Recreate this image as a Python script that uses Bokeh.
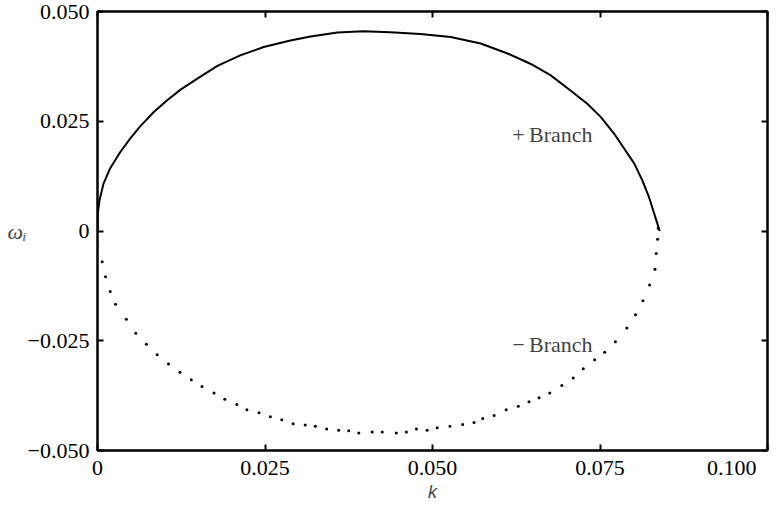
from bokeh.plotting import figure
from bokeh.models import LinearAxis, FixedTicker, Label, Range1d
from bokeh.embed import file_html
from bokeh.resources import INLINE

# + branch (solid curve)
k_plus = [0.0, 0.00005, 0.0003, 0.0009, 0.0019, 0.0034, 0.0049, 0.0064, 0.0084, 0.0104,
          0.0124, 0.0149, 0.0179, 0.0213, 0.0248, 0.0288, 0.0318, 0.0358, 0.0397, 0.0437,
          0.0482, 0.0527, 0.0572, 0.0611, 0.0646, 0.0676, 0.0706, 0.0731, 0.0751, 0.0771,
          0.0786, 0.0801, 0.0813, 0.0823, 0.0830, 0.0836, 0.0839]
w_plus = [0.0, 0.0040, 0.0070, 0.0108, 0.0143, 0.0180, 0.0211, 0.0239, 0.0271, 0.0298,
          0.0322, 0.0347, 0.0376, 0.0400, 0.0419, 0.0434, 0.0443, 0.0452, 0.0455, 0.0453,
          0.0449, 0.0442, 0.0427, 0.0405, 0.0381, 0.0355, 0.0320, 0.0290, 0.0260, 0.0222,
          0.0188, 0.0154, 0.0116, 0.0078, 0.0044, 0.0015, 0.0]

# - branch (dotted)
k_minus = [0.0, 0.0, 0.0007, 0.0012, 0.0019, 0.0027, 0.0043, 0.0057, 0.0073, 0.0089,
           0.0106, 0.0123, 0.0140, 0.0156, 0.0174, 0.0190, 0.0208, 0.0223, 0.0241, 0.0258,
           0.0275, 0.0292, 0.0310, 0.0325, 0.0342, 0.0360, 0.0375, 0.0390, 0.0410, 0.0425,
           0.0446, 0.0461, 0.0476, 0.0492, 0.0507, 0.0526, 0.0545, 0.0562, 0.0575, 0.0592,
           0.0610, 0.0628, 0.0644, 0.0659, 0.0675, 0.0693, 0.0710, 0.0725, 0.0742, 0.0757,
           0.0773, 0.0790, 0.0803, 0.0814, 0.0824, 0.0832, 0.0834, 0.0836, 0.0837]
w_minus = [0.0006, -0.0032, -0.0070, -0.0104, -0.0138, -0.0167, -0.0201, -0.0233, -0.0258, -0.0282,
           -0.0303, -0.0322, -0.0339, -0.0354, -0.0369, -0.0383, -0.0395, -0.0407, -0.0414, -0.0423,
           -0.0430, -0.0439, -0.0442, -0.0445, -0.0451, -0.0454, -0.0455, -0.0460, -0.0458, -0.0458,
           -0.0460, -0.0458, -0.0451, -0.0454, -0.0448, -0.0445, -0.0441, -0.0436, -0.0427, -0.0420,
           -0.0407, -0.0399, -0.0389, -0.0380, -0.0369, -0.0352, -0.0335, -0.0314, -0.0293, -0.0276,
           -0.0252, -0.0221, -0.0191, -0.0159, -0.0123, -0.0087, -0.0051, -0.0019, 0.0006]

x_ticks = [0.0, 0.025, 0.05, 0.075, 0.1]
x_tick_labels = ["0", "0.025", "0.050", "0.075", "0.100"]
y_ticks = [-0.05, -0.025, 0.0, 0.025, 0.05]
y_tick_labels = ["\u22120.050", "\u22120.025", "0", "0.025", "0.050"]

branch_text = ["+\u2009Branch", "\u2212\u2009Branch"]
branch_k = [0.0619, 0.0619]
branch_w = [0.0220, -0.0259]

SERIF = "Liberation Serif"
FS = "22px"

p = figure(width=778, height=512, output_backend="svg", toolbar_location=None,
           x_range=Range1d(0.0, 0.1), y_range=Range1d(-0.05, 0.05),
           x_axis_type=None, y_axis_type=None,
           min_border_left=97, min_border_right=11, min_border_top=11, min_border_bottom=62)
p.background_fill_color = "white"
p.border_fill_color = "white"
p.grid.visible = False
p.outline_line_color = "black"
p.outline_line_width = 2

def make_axis(ticks, labels, show_labels):
    ax = LinearAxis(ticker=FixedTicker(ticks=ticks))
    ax.axis_line_color = "black"
    ax.axis_line_width = 2
    ax.major_tick_in = 6
    ax.major_tick_out = 0
    ax.major_tick_line_width = 2
    ax.minor_tick_line_color = None
    if show_labels:
        ax.major_label_overrides = {t: l for t, l in zip(ticks, labels)}
        ax.major_label_text_font = SERIF
        ax.major_label_text_font_size = FS
        ax.major_label_text_color = "black"
    else:
        ax.major_label_text_font_size = "0px"
        ax.major_label_text_alpha = 0
    return ax

# last x label padded on the right so it sits inside the canvas, as in the reference
bx_labels = list(x_tick_labels)
bx_labels[-1] = bx_labels[-1] + "\u00a0" * 4
bottom = make_axis(x_ticks, bx_labels, True)
bottom.major_label_standoff = 4
bottom.axis_label = "k"
bottom.axis_label_text_font = "Liberation Sans"
bottom.axis_label_text_font_style = "italic"
bottom.axis_label_text_font_size = "18px"
bottom.axis_label_standoff = -1
p.add_layout(bottom, "below")

left = make_axis(y_ticks, y_tick_labels, True)
left.major_label_standoff = 8
left.axis_label = "\u03c9\u1d62"
left.axis_label_orientation = "horizontal"
left.axis_label_text_font = SERIF
left.axis_label_text_font_style = "italic"
left.axis_label_text_font_size = "22px"
left.axis_label_standoff = -2
p.add_layout(left, "left")

top = make_axis(x_ticks, x_tick_labels, False)
p.add_layout(top, "above")
right = make_axis(y_ticks, y_tick_labels, False)
p.add_layout(right, "right")

# data
p.line(k_plus, w_plus, line_color="black", line_width=2, line_join="round")
p.scatter(k_minus, w_minus, marker="circle", size=3, fill_color="black", line_color=None)

for t, kx, wy in zip(branch_text, branch_k, branch_w):
    p.add_layout(Label(x=kx, y=wy, text=t, text_align="left", text_baseline="middle",
                       text_font=SERIF, text_font_size=FS))

open("out.html", "w").write(file_html(p, INLINE))
